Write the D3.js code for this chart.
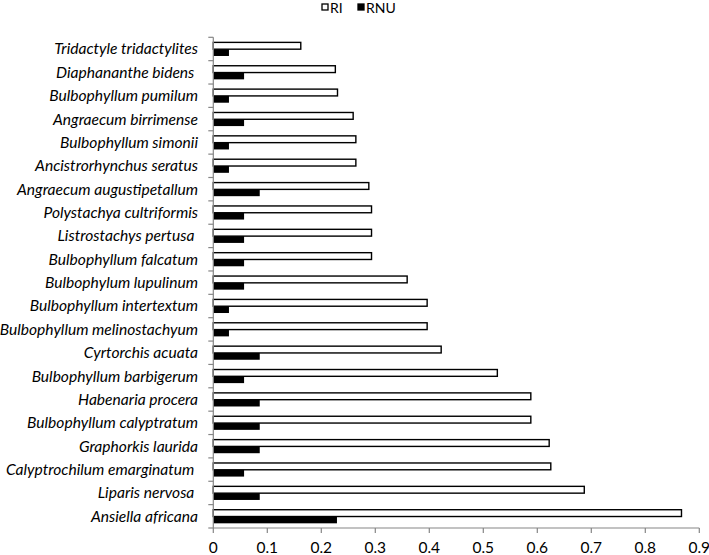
<!DOCTYPE html>
<html><head><meta charset="utf-8">
<script src="https://cdn.jsdelivr.net/npm/d3@7/dist/d3.min.js"></script>
<style>body{margin:0;background:#fff;} svg{display:block;}</style>
</head><body>
<svg id="c" width="709" height="555"></svg>
<script>
const categories = [
  "Tridactyle tridactylites","Diaphananthe bidens ","Bulbophyllum pumilum","Angraecum birrimense",
  "Bulbophyllum simonii","Ancistrorhynchus seratus","Angraecum augustipetallum","Polystachya cultriformis",
  "Listrostachys pertusa ","Bulbophyllum falcatum","Bulbophylum lupulinum","Bulbophyllum intertextum",
  "Bulbophyllum melinostachyum","Cyrtorchis acuata","Bulbophyllum barbigerum","Habenaria procera",
  "Bulbophyllum calyptratum","Graphorkis laurida","Calyptrochilum emarginatum ","Liparis nervosa ",
  "Ansiella africana"
];
const RI = [0.162,0.226,0.230,0.259,0.264,0.264,0.288,0.293,0.293,0.293,0.359,0.396,0.396,0.422,0.526,0.588,0.588,0.622,0.625,0.687,0.867];
const RNU = [0.029,0.057,0.029,0.057,0.029,0.029,0.086,0.057,0.057,0.057,0.057,0.029,0.029,0.086,0.057,0.086,0.086,0.086,0.057,0.086,0.229];
const xTicks = [0,0.1,0.2,0.3,0.4,0.5,0.6,0.7,0.8,0.9];
const seriesNames = ["RI","RNU"];

const svg = d3.select("#c");
const m = {left:213.3, right:699.3, top:37.3, bottom:528};
const x = d3.scaleLinear().domain([0,0.9]).range([m.left,m.right]);
const y = d3.scaleBand().domain(categories).range([m.top,m.bottom]).paddingInner(0).paddingOuter(0);
const barH = 6.8;
const axisCol = "#868686";
const font = "Lato, 'Open Sans', sans-serif";

const g = svg.append("g");
g.selectAll("rect.ri").data(categories).join("rect")
  .attr("x", x(0)).attr("y", (d)=>y(d)+y.bandwidth()/2 - barH + 0.2)
  .attr("width", (d,i)=>x(RI[i])-x(0)).attr("height", barH)
  .attr("fill","#fff").attr("stroke","#000").attr("stroke-width",1.4);
g.selectAll("rect.rnu").data(categories).join("rect")
  .attr("x", x(0)).attr("y", (d)=>y(d)+y.bandwidth()/2 + 0.2)
  .attr("width", (d,i)=>x(RNU[i])-x(0)).attr("height", barH)
  .attr("fill","#000");

const ya = svg.append("g");
ya.append("line").attr("x1",m.left).attr("x2",m.left).attr("y1",m.top).attr("y2",m.bottom)
  .attr("stroke",axisCol).attr("stroke-width",1.2);
const bounds = categories.map(d=>y(d)).concat([m.bottom]);
ya.selectAll("line.t").data(bounds).join("line")
  .attr("x1",m.left-5).attr("x2",m.left).attr("y1",d=>d).attr("y2",d=>d)
  .attr("stroke",axisCol).attr("stroke-width",1.2);
ya.selectAll("text").data(categories).join("text")
  .attr("x",198).attr("y",d=>y(d)+y.bandwidth()/2).attr("dy","0.35em")
  .attr("text-anchor","end").style("font-family",font).style("font-style","italic")
  .style("font-size","15.6px").attr("fill","#000")
  .style("white-space","pre").text(d=>d);

const xa = svg.append("g");
xa.append("line").attr("x1",m.left).attr("x2",m.right).attr("y1",m.bottom).attr("y2",m.bottom)
  .attr("stroke",axisCol).attr("stroke-width",1.2);
xa.selectAll("line.t").data(xTicks).join("line")
  .attr("x1",d=>x(d)).attr("x2",d=>x(d)).attr("y1",m.bottom).attr("y2",m.bottom+5)
  .attr("stroke",axisCol).attr("stroke-width",1.2);
xa.selectAll("text").data(xTicks).join("text")
  .attr("x",d=>x(d)).attr("y",553).attr("text-anchor","middle")
  .style("font-family",font).style("font-size","15.5px").attr("fill","#000")
  .text(d=>d===0?"0":d3.format(".1f")(d));

const leg = svg.append("g");
const legX = [322, 358];
leg.selectAll("rect").data(seriesNames).join("rect")
  .attr("x",(d,i)=>legX[i]).attr("y",4).attr("width",6).attr("height",6)
  .attr("fill",(d,i)=>i===0?"#fff":"#000").attr("stroke","#000").attr("stroke-width",1.3);
leg.selectAll("text").data(seriesNames).join("text")
  .attr("x",(d,i)=>legX[i]+8).attr("y",13)
  .style("font-family",font).style("font-size","14px").attr("fill","#000").text(d=>d);
</script>
</body></html>
